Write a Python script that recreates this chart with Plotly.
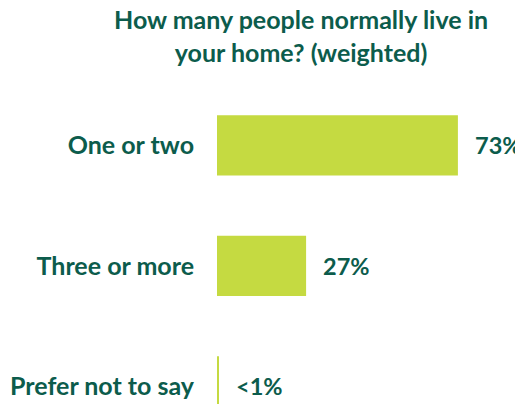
import plotly.graph_objects as go

categories = ["One or two", "Three or more", "Prefer not to say"]
values = [73, 27, 0.5]
value_labels = ["73%", "27%", "<1%"]
title_text = "How many people normally live in<br>your home? (weighted)"

TEAL = "#0C5C4C"
LIME = "#C5DA41"
FONT = "Lato"
FS = 25

fig = go.Figure(go.Bar(
    x=values, y=categories, orientation="h",
    marker=dict(color=LIME, line=dict(width=0)),
    width=0.5, hoverinfo="skip",
))

for v, c, t in zip(values, categories, value_labels):
    fig.add_annotation(x=v, y=c, text=t, xanchor="left", yanchor="middle",
                       xshift=15, showarrow=False,
                       font=dict(family=FONT, size=23.5, color=TEAL, weight="bold"))

fig.add_annotation(text=title_text, xref="paper", yref="paper", x=0.32, y=1,
                   xanchor="center", yanchor="bottom", yshift=16, showarrow=False,
                   align="center",
                   font=dict(family=FONT, size=FS, color=TEAL, weight="bold"))

fig.update_layout(
    width=515, height=396,
    margin=dict(l=209, r=42, t=77, b=0),
    paper_bgcolor="white", plot_bgcolor="white",
    showlegend=False,
    xaxis=dict(range=[0, 80], visible=False, fixedrange=True),
    yaxis=dict(type="category", categoryorder="array", categoryarray=categories,
               range=[2.147, -0.5], showgrid=False, zeroline=False, showline=False,
               ticks="", ticklabelstandoff=22, automargin=False,
               tickfont=dict(family=FONT, size=FS, color=TEAL, weight="bold")),
)

fig.write_html("out.html")
